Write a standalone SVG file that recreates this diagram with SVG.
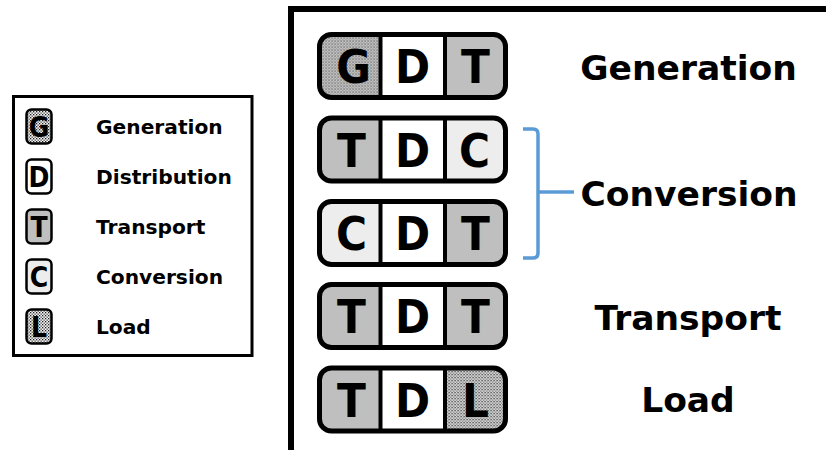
<svg xmlns="http://www.w3.org/2000/svg" width="826" height="450" viewBox="0 0 826 450">
<style>
.frame{fill:#fff;stroke:#000;stroke-width:6}
.lframe{fill:#fff;stroke:#000;stroke-width:3}
.tile{fill:none;stroke:#000;stroke-width:5}
.div{stroke:#000;stroke-width:4}
.big{font-family:"DejaVu Sans Condensed","DejaVu Sans",sans-serif;font-weight:bold;font-size:47px;text-anchor:middle;fill:#000}
.lab{font-family:"DejaVu Sans",Verdana,sans-serif;font-weight:bold;font-size:34.5px;text-anchor:middle;fill:#000}
.ltxt{font-family:"DejaVu Sans",Verdana,sans-serif;font-weight:bold;font-size:20.2px;fill:#000}
.lbox{stroke:#000;stroke-width:2.5}
.lletter{font-family:"DejaVu Sans Condensed","DejaVu Sans",sans-serif;font-weight:bold;font-size:28px;text-anchor:middle;fill:#000}
.g{fill:url(#stip)}
.d{fill:#fff}
.t{fill:#bfbfbf}
.c{fill:#ededed}
.brace{fill:none;stroke:#5b9bd5;stroke-width:3.5;stroke-linejoin:round}
</style>
<defs>
<pattern id="stip" width="3" height="3" patternUnits="userSpaceOnUse">
<rect width="3" height="3" fill="#f2f2f2"/>
<rect x="0" y="0" width="1.3" height="1.3" fill="#222"/>
<rect x="1.5" y="1.5" width="1.3" height="1.3" fill="#444"/>
</pattern>
<clipPath id="tc" clipPathUnits="userSpaceOnUse"><rect x="0" y="0" width="186" height="63" rx="12"/></clipPath>
</defs>

<rect class="frame" x="291" y="9" width="600" height="445"/>

<g id="legend">
<rect class="lframe" x="13.5" y="96.5" width="238.5" height="259"/>
<g id="leg-g"><rect class="lbox g" x="26.5" y="109.5" width="25" height="34" rx="5"/><text class="lletter" x="39" y="136.5">G</text><text class="ltxt" x="96" y="134">Generation</text></g>
<g id="leg-d"><rect class="lbox d" x="26.5" y="159.5" width="25" height="34" rx="5"/><text class="lletter" x="39" y="186.5">D</text><text class="ltxt" x="96" y="184">Distribution</text></g>
<g id="leg-t"><rect class="lbox t" x="26.5" y="209.5" width="25" height="34" rx="5"/><text class="lletter" x="39" y="236.5">T</text><text class="ltxt" x="96" y="234">Transport</text></g>
<g id="leg-c"><rect class="lbox c" x="26.5" y="259.5" width="25" height="34" rx="5"/><text class="lletter" x="39" y="286.5">C</text><text class="ltxt" x="96" y="284">Conversion</text></g>
<g id="leg-l"><rect class="lbox g" x="26.5" y="309.5" width="25" height="34" rx="5"/><text class="lletter" x="39" y="336.5">L</text><text class="ltxt" x="96" y="334">Load</text></g>
</g>

<g id="tile-gdt" transform="translate(319.5,34.5)">
<g clip-path="url(#tc)"><rect class="g" x="0" y="0" width="61" height="63"/><rect class="d" x="61" y="0" width="64.5" height="63"/><rect class="t" x="125.5" y="0" width="61" height="63"/></g>
<line class="div" x1="61" y1="0" x2="61" y2="63"/><line class="div" x1="125.5" y1="0" x2="125.5" y2="63"/>
<rect class="tile" x="0" y="0" width="186" height="63" rx="12"/>
<text class="big" x="34" y="48.5">G</text><text class="big" x="93" y="48.5">D</text><text class="big" x="156" y="48.5">T</text>
</g>
<g id="tile-tdc" transform="translate(319.5,118)">
<g clip-path="url(#tc)"><rect class="t" x="0" y="0" width="61" height="63"/><rect class="d" x="61" y="0" width="64.5" height="63"/><rect class="c" x="125.5" y="0" width="61" height="63"/></g>
<line class="div" x1="61" y1="0" x2="61" y2="63"/><line class="div" x1="125.5" y1="0" x2="125.5" y2="63"/>
<rect class="tile" x="0" y="0" width="186" height="63" rx="12"/>
<text class="big" x="32" y="48.5">T</text><text class="big" x="93" y="48.5">D</text><text class="big" x="155" y="48.5">C</text>
</g>
<g id="tile-cdt" transform="translate(319.5,201.5)">
<g clip-path="url(#tc)"><rect class="c" x="0" y="0" width="61" height="63"/><rect class="d" x="61" y="0" width="64.5" height="63"/><rect class="t" x="125.5" y="0" width="61" height="63"/></g>
<line class="div" x1="61" y1="0" x2="61" y2="63"/><line class="div" x1="125.5" y1="0" x2="125.5" y2="63"/>
<rect class="tile" x="0" y="0" width="186" height="63" rx="12"/>
<text class="big" x="32" y="48.5">C</text><text class="big" x="93" y="48.5">D</text><text class="big" x="156" y="48.5">T</text>
</g>
<g id="tile-tdt" transform="translate(319.5,284.5)">
<g clip-path="url(#tc)"><rect class="t" x="0" y="0" width="61" height="63"/><rect class="d" x="61" y="0" width="64.5" height="63"/><rect class="t" x="125.5" y="0" width="61" height="63"/></g>
<line class="div" x1="61" y1="0" x2="61" y2="63"/><line class="div" x1="125.5" y1="0" x2="125.5" y2="63"/>
<rect class="tile" x="0" y="0" width="186" height="63" rx="12"/>
<text class="big" x="32" y="48.5">T</text><text class="big" x="93" y="48.5">D</text><text class="big" x="156" y="48.5">T</text>
</g>
<g id="tile-tdl" transform="translate(319.5,368)">
<g clip-path="url(#tc)"><rect class="t" x="0" y="0" width="61" height="63"/><rect class="d" x="61" y="0" width="64.5" height="63"/><rect class="g" x="125.5" y="0" width="61" height="63"/></g>
<line class="div" x1="61" y1="0" x2="61" y2="63"/><line class="div" x1="125.5" y1="0" x2="125.5" y2="63"/>
<rect class="tile" x="0" y="0" width="186" height="63" rx="12"/>
<text class="big" x="32" y="48.5">T</text><text class="big" x="93" y="48.5">D</text><text class="big" x="156" y="48.5">L</text>
</g>

<g id="connectors">
<path class="brace" d="M523,129 L533,129 Q538,129 538,134 L538,253 Q538,258 533,258 L523,258"/>
<path class="brace" d="M538,192 L574,192"/>
</g>

<g id="labels">
<text class="lab" x="688.5" y="80">Generation</text>
<text class="lab" x="689" y="206">Conversion</text>
<text class="lab" x="688" y="330">Transport</text>
<text class="lab" x="688" y="412">Load</text>
</g>
</svg>
